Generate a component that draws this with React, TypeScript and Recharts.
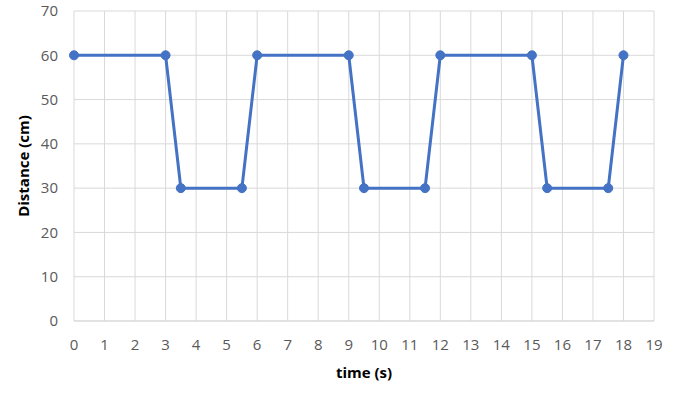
import React from 'react';
import { LineChart, Line, XAxis, YAxis, CartesianGrid, Label } from 'recharts';

const timeValues = [0, 3, 3.5, 5.5, 6, 9, 9.5, 11.5, 12, 15, 15.5, 17.5, 18];
const distanceValues = [60, 60, 30, 30, 60, 60, 30, 30, 60, 60, 30, 30, 60];
const xTicks = [0, 1, 2, 3, 4, 5, 6, 7, 8, 9, 10, 11, 12, 13, 14, 15, 16, 17, 18, 19];
const yTicks = [0, 10, 20, 30, 40, 50, 60, 70];

const data = timeValues.map((t, i) => ({ time: t, distance: distanceValues[i] }));

const FONT = 'Open Sans, Liberation Sans, sans-serif';
const tickStyle = { fill: '#595959', fontSize: 15, fontFamily: FONT };

const YTitle = (props: any) => {
  const { viewBox } = props;
  const cx = 23;
  const cy = viewBox.y + viewBox.height / 2;
  return (
    <text
      x={cx}
      y={cy}
      transform={`rotate(-90, ${cx}, ${cy})`}
      textAnchor="middle"
      dominantBaseline="central"
      fill="#000"
      fontWeight="bold"
      fontSize={15}
      fontFamily={FONT}
    >
      Distance (cm)
    </text>
  );
};

export default function App() {
  return (
    <div style={{ position: 'absolute', left: 0, top: 0, background: '#fff' }}>
      <LineChart
        width={673}
        height={397}
        data={data}
        margin={{ top: 11, right: 19, bottom: 16, left: 0 }}
      >
        <CartesianGrid stroke="#d9d9d9" strokeWidth={1} />
        <XAxis
          dataKey="time"
          type="number"
          domain={[0, 19]}
          ticks={xTicks}
          interval={0}
          tick={tickStyle}
          tickLine={false}
          axisLine={{ stroke: '#d9d9d9' }}
          tickMargin={12}
          height={60}
        >
          <Label
            value="time (s)"
            position="insideBottom"
            offset={3}
            style={{ fill: '#000', fontWeight: 'bold', fontSize: 15, fontFamily: FONT }}
          />
        </XAxis>
        <YAxis
          type="number"
          domain={[0, 70]}
          ticks={yTicks}
          interval={0}
          tick={tickStyle}
          tickLine={false}
          axisLine={false}
          tickMargin={10}
          width={74}
        >
          <Label content={<YTitle />} />
        </YAxis>
        <Line
          dataKey="distance"
          stroke="#4472C4"
          strokeWidth={3}
          dot={{ r: 4.5, fill: '#4472C4', stroke: '#4472C4', strokeWidth: 1 }}
          isAnimationActive={false}
        />
      </LineChart>
    </div>
  );
}
